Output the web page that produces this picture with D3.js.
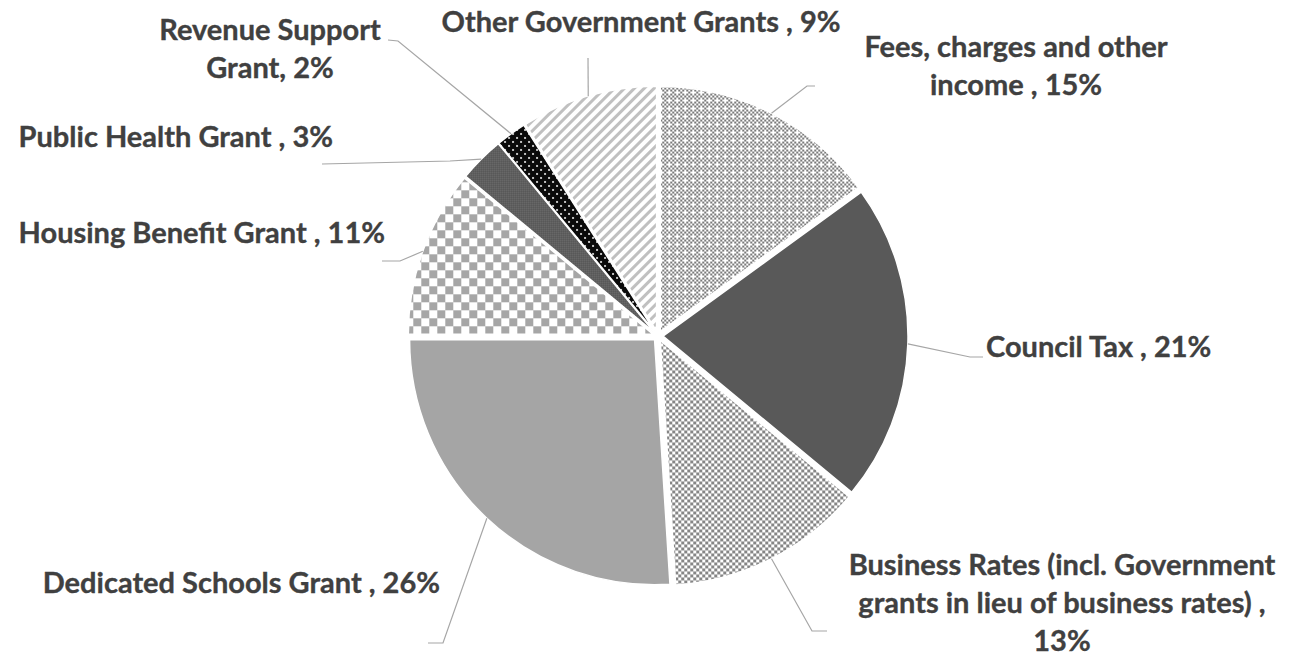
<!DOCTYPE html>
<html>
<head>
<meta charset="utf-8">
<script src="https://cdn.jsdelivr.net/npm/d3@7"></script>
<style>
  html, body { margin: 0; padding: 0; background: #ffffff; }
  svg { display: block; }
  .label { font-family: Lato, "Open Sans", sans-serif; font-weight: 700; font-size: 29px;
           fill: #404040; stroke: #404040; stroke-width: 0.35px; }
  .leader { fill: none; stroke: #a6a6a6; stroke-width: 1.2; }
</style>
</head>
<body>
<svg id="chart" width="1292" height="658"></svg>
<script>
// Income sources, clockwise from twelve o'clock
const categories = [
  "Fees, charges and other income",
  "Council Tax",
  "Business Rates (incl. Government grants in lieu of business rates)",
  "Dedicated Schools Grant",
  "Housing Benefit Grant",
  "Public Health Grant",
  "Revenue Support Grant",
  "Other Government Grants"
];
// Share of total income, %
const shares = [15, 21, 13, 26, 11, 3, 2, 9];
// Label wording per slice; {v} is replaced by the slice's share
const labelTemplates = [
  ["Fees, charges and other", "income , {v}%"],
  ["Council Tax , {v}%"],
  ["Business Rates (incl. Government", "grants in lieu of business rates) ,", "{v}%"],
  ["Dedicated Schools Grant , {v}%"],
  ["Housing Benefit Grant , {v}%"],
  ["Public Health Grant , {v}%"],
  ["Revenue Support", "Grant, {v}%"],
  ["Other Government Grants , {v}%"]
];

// ---- layout & styling ----
const W = 1292, H = 658;
const cx = 658, cy = 336, R = 245, explode = 5, lineH = 38;

const fills = ["url(#p-fees)", "#595959", "url(#p-biz)", "#a5a5a5",
               "url(#p-hbg)", "url(#p-ph)", "url(#p-rsg)", "url(#p-ogg)"];

// leader elbow / end points and label anchors for each slice
const labelLayout = [
  { elbow: [807, 86],  end: [815, 86],  text: [1016, 57],  anchor: "middle" },
  { elbow: [970, 357], end: [983, 357], text: [986, 357],  anchor: "start" },
  { elbow: [812, 631], end: [827, 631], text: [1062, 575], anchor: "middle" },
  { elbow: [443, 643], end: [428, 643], text: [440, 593],  anchor: "end" },
  { elbow: [400, 261], end: [382, 261], text: [385, 243],  anchor: "end" },
  { elbow: [450, 161], end: [322, 164], text: [333, 147],  anchor: "end" },
  { elbow: [398, 41],  end: [388, 40],  text: [270, 40],   anchor: "middle" },
  { elbow: [588, 58],  end: [588, 58],  text: [641, 32],   anchor: "middle" }
];

const svg = d3.select("#chart");
svg.append("rect").attr("width", W).attr("height", H).attr("fill", "#ffffff");

// ---- fill patterns ----
const defs = svg.append("defs");

// fine checker with white specks
const pFees = defs.append("pattern").attr("id", "p-fees")
  .attr("patternUnits", "userSpaceOnUse").attr("width", 8).attr("height", 8);
pFees.append("rect").attr("width", 8).attr("height", 8).attr("fill", "#ffffff");
for (let i = 0; i < 4; i++) for (let j = 0; j < 4; j++) {
  if ((i + j) % 2 === 0 && !(i === 0 && j === 0)) {
    pFees.append("rect").attr("x", i * 2).attr("y", j * 2)
      .attr("width", 2).attr("height", 2).attr("fill", "#7a7a7a");
  }
}

// small checkerboard
const pBiz = defs.append("pattern").attr("id", "p-biz")
  .attr("patternUnits", "userSpaceOnUse").attr("width", 6).attr("height", 6);
pBiz.append("rect").attr("width", 6).attr("height", 6).attr("fill", "#ffffff");
pBiz.append("rect").attr("width", 3).attr("height", 3).attr("fill", "#858585");
pBiz.append("rect").attr("x", 3).attr("y", 3).attr("width", 3).attr("height", 3).attr("fill", "#858585");

// large checkerboard
const pHbg = defs.append("pattern").attr("id", "p-hbg")
  .attr("patternUnits", "userSpaceOnUse").attr("width", 16).attr("height", 16);
pHbg.append("rect").attr("width", 16).attr("height", 16).attr("fill", "#ffffff");
pHbg.append("rect").attr("width", 8).attr("height", 8).attr("fill", "#a6a6a6");
pHbg.append("rect").attr("x", 8).attr("y", 8).attr("width", 8).attr("height", 8).attr("fill", "#a6a6a6");

// dark fine grid
const pPh = defs.append("pattern").attr("id", "p-ph")
  .attr("patternUnits", "userSpaceOnUse").attr("width", 2).attr("height", 2);
pPh.append("rect").attr("width", 2).attr("height", 2).attr("fill", "#2a2a2a");
pPh.append("rect").attr("width", 1).attr("height", 1).attr("fill", "#ffffff");

// black with white dots
const pRsg = defs.append("pattern").attr("id", "p-rsg")
  .attr("patternUnits", "userSpaceOnUse").attr("width", 8).attr("height", 8);
pRsg.append("rect").attr("width", 8).attr("height", 8).attr("fill", "#0a0a0a");
pRsg.append("circle").attr("cx", 2).attr("cy", 2).attr("r", 1).attr("fill", "#ffffff");
pRsg.append("circle").attr("cx", 6).attr("cy", 6).attr("r", 1).attr("fill", "#ffffff");

// light diagonal stripes
const pOgg = defs.append("pattern").attr("id", "p-ogg")
  .attr("patternUnits", "userSpaceOnUse").attr("width", 7).attr("height", 7)
  .attr("patternTransform", "rotate(45)");
pOgg.append("rect").attr("width", 7).attr("height", 7).attr("fill", "#ffffff");
pOgg.append("rect").attr("width", 3).attr("height", 7).attr("fill", "#c0c0c0");

// ---- pie ----
const pie = d3.pie().sort(null).value(d => d);
const arcs = pie(shares);
const arc = d3.arc().innerRadius(0).outerRadius(R);

const slices = svg.append("g").attr("class", "slices");
slices.selectAll("path")
  .data(arcs)
  .join("path")
  .attr("transform", d => {
    const mid = (d.startAngle + d.endAngle) / 2;
    return `translate(${cx + Math.sin(mid) * explode},${cy - Math.cos(mid) * explode})`;
  })
  .attr("d", arc)
  .attr("fill", (d, i) => fills[i])
  .attr("stroke", "#ffffff")
  .attr("stroke-width", 1.5)
  .attr("stroke-linejoin", "round");

// ---- leader lines ----
const leaders = svg.append("g").attr("class", "leaders");
leaders.selectAll("path")
  .data(arcs)
  .join("path")
  .attr("class", "leader")
  .attr("d", (d, i) => {
    const mid = (d.startAngle + d.endAngle) / 2;
    const rr = R + explode;
    const start = [cx + Math.sin(mid) * rr, cy - Math.cos(mid) * rr];
    const L = labelLayout[i];
    return d3.line()([start, L.elbow, L.end]);
  });

// ---- labels ----
const labels = svg.append("g").attr("class", "labels");
labels.selectAll("text")
  .data(arcs)
  .join("text")
  .attr("class", "label")
  .attr("x", (d, i) => labelLayout[i].text[0])
  .attr("y", (d, i) => labelLayout[i].text[1])
  .attr("text-anchor", (d, i) => labelLayout[i].anchor)
  .each(function (d, i) {
    const t = d3.select(this);
    labelTemplates[i].forEach((line, k) => {
      t.append("tspan")
        .attr("x", labelLayout[i].text[0])
        .attr("dy", k === 0 ? 0 : lineH)
        .text(line.replace("{v}", d.data));
    });
  });
</script>
</body>
</html>
